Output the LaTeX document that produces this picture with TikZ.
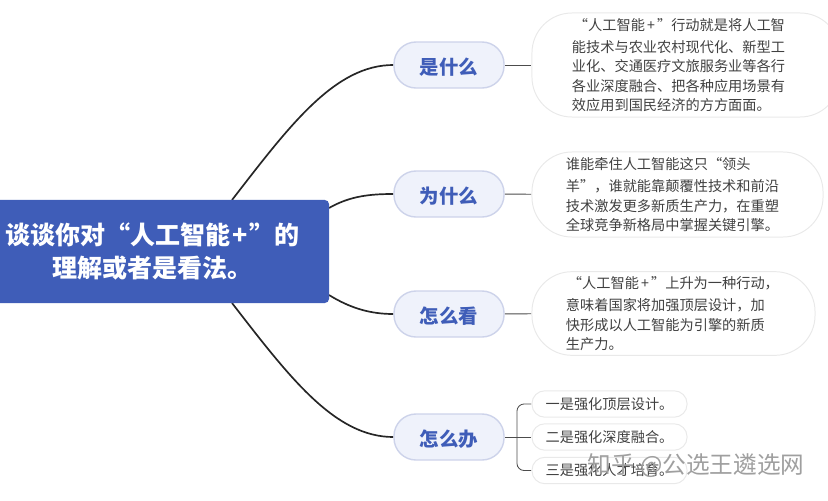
\documentclass[tikz,border=0pt]{standalone}
\usepackage{fontspec}
\setmainfont{Noto Sans CJK SC}
\pgfdeclarelayer{bg}
\pgfsetlayers{bg,main}
\definecolor{rootblue}{HTML}{3F5DB8}
\definecolor{pillfill}{HTML}{EFF2FB}
\definecolor{pillline}{HTML}{CDD3EA}
\definecolor{noteline}{HTML}{E9E9E9}
\definecolor{notetext}{HTML}{404040}
\newcommand{\plusgap}{\kern1.5pt+\kern1.5pt}
\tikzstyle{rootbox}=[fill=rootblue, rounded corners=3pt, minimum width=8.825cm, minimum height=2.575cm, align=center, text=white, execute at begin node={\vspace*{2pt}}, font=\fontsize{17.8}{23.4}\selectfont\bfseries]
\tikzstyle{topic}=[fill=pillfill, draw=pillline, line width=1pt, rounded corners=0.55cm, minimum width=2.75cm, minimum height=1.15cm, text height=14.6pt, text depth=1.4pt, text=rootblue, font=\fontsize{13.8}{16}\selectfont\bfseries]
\tikzstyle{note}=[draw=noteline, line width=0.7pt, rounded corners=1cm, align=left, text=notetext, execute at begin node={\vspace*{2pt}}, font=\fontsize{10.1}{13.8}\selectfont]
\tikzstyle{leaf}=[draw=noteline, line width=0.7pt, rounded corners=0.32cm, minimum height=0.66cm, text=notetext, font=\fontsize{10.1}{13.8}\selectfont]
\tikzstyle{wire}=[-, line width=1.2pt, draw=black!85]
\tikzstyle{twig}=[-, line width=0.6pt, draw=black!70]

\begin{document}
\begin{tikzpicture}[x=0.025cm, y=-0.025cm]
    \clip (0, 0) rectangle (828, 500);

    \node [rootbox] (root) at (152.5, 251.5) {谈谈你对“人工智能\plusgap”的\\理解或者是看法。};
    \coordinate (rootT) at (232, 200);
    \coordinate (rootB) at (232, 303);
    \coordinate (rootR) at (329, 208);
    \coordinate (rootS) at (329, 295);

    \node [topic] (what) at (449, 65) {是什么};
    \node [topic] (why) at (449, 194) {为什么};
    \node [topic] (view) at (449, 314) {怎么看};
    \node [topic] (how) at (449, 437) {怎么办};

    \node [note, minimum width=7.7cm, minimum height=2.6cm, text width=5.7cm, inner xsep=1cm] (whatnote) at (686, 65) {%
      \hspace*{0.05cm}“人工智能\plusgap”行动就是将人工智\\
      能技术与农业农村现代化、新型工\\
      业化、交通医疗文旅服务业等各行\\
      各业深度融合、把各种应用场景有\\
      效应用到国民经济的方方面面。};
    \node [note, minimum width=7.275cm, minimum height=2.125cm, text width=5.575cm, inner xsep=0.85cm] (whynote) at (677.5, 194.5) {%
      谁能牵住人工智能这只“领头\\
      羊”，谁就能靠颠覆性技术和前沿\\
      技术激发更多新质生产力，在重塑\\
      全球竞争新格局中掌握关键引擎。};
    \node [note, minimum width=7.075cm, minimum height=2.075cm, text width=5.375cm, inner xsep=0.85cm] (viewnote) at (673.5, 313.5) {%
      \hspace*{0.05cm}“人工智能\plusgap”上升为一种行动，\\
      意味着国家将加强顶层设计，加\\
      快形成以人工智能为引擎的新质\\
      生产力。};

    \node [leaf, minimum width=3.875cm] (leafa) at (609.5, 404) {一是强化顶层设计。};
    \node [leaf, minimum width=3.875cm] (leafb) at (609.5, 437) {二是强化深度融合。};
    \node [leaf, minimum width=3.875cm] (leafc) at (609.5, 470.5) {三是强化人才培育。};
    \coordinate (fork) at (517, 437);

    \node [text=gray!75, font=\fontsize{16.8}{18}\selectfont] (mark) at (696, 466) {知乎 @公选王遴选网};

    \begin{pgfonlayer}{bg}
        \draw [wire] (rootT) .. controls (290, 125) and (335, 65) .. (what);
        \draw [wire] (rootR) .. controls (350, 196) and (370, 194) .. (why);
        \draw [wire] (rootS) .. controls (350, 308) and (370, 314) .. (view);
        \draw [wire] (rootB) .. controls (290, 378) and (335, 437) .. (how);
        \draw [twig] (what) -- (whatnote);
        \draw [twig] (why) -- (whynote);
        \draw [twig] (view) -- (viewnote);
        \draw [twig] (how) -- (leafb);
        \draw [twig, rounded corners=5pt] (fork) |- (leafa.west);
        \draw [twig, rounded corners=5pt] (fork) |- (leafc.west);
    \end{pgfonlayer}
\end{tikzpicture}
\end{document}
